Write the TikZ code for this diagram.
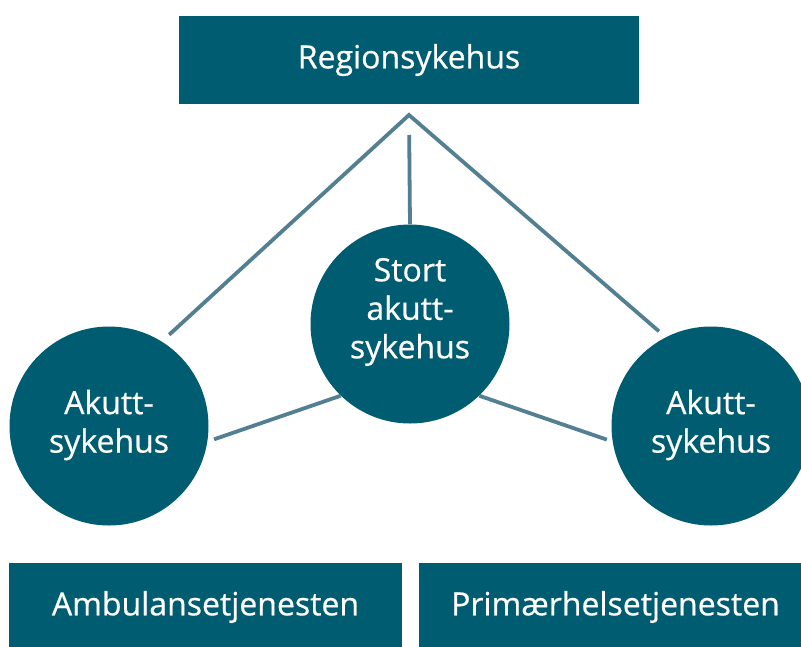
\documentclass[tikz,border=0pt]{standalone}
\usepackage{fontspec}
\IfFontExistsTF{Open Sans SemiBold}
  {\setmainfont{Open Sans SemiBold}}
  {\setmainfont{Open Sans}[FakeBold=0.6,AutoFakeBold=0.6]}
\definecolor{petrol}{RGB}{0,92,112}
\definecolor{linjeblaa}{RGB}{82,128,146}

\begin{document}
\begin{tikzpicture}[x=1pt,y=-1pt,line join=miter,
    boks/.style={fill=petrol,text=white,minimum height=88pt,inner sep=0pt,
      font=\fontsize{32}{38.5}\selectfont},
    sirkel/.style={circle,fill=petrol,minimum size=199pt,inner sep=0pt},
    tekst/.style={text=white,align=center,inner sep=0pt,
      font=\fontsize{32}{38.5}\selectfont},
    linje/.style={draw=linjeblaa,line width=3.8pt}]
      \useasboundingbox (0,0) rectangle (801,646);
      \node[boks,minimum width=460pt] (region) at (409,60) {Regionsykehus};
      \node[boks,minimum width=393pt] (ambulanse) at (205.5,607) {Ambulansetjenesten};
      \node[boks,minimum width=393pt] (primaer) at (615.5,607) {Primærhelsetjenesten};
      \node[sirkel] (mid)   at (410,324) {};
      \node[sirkel] (left)  at (109,426) {};
      \node[sirkel] (right) at (711,426) {};
      \node[tekst] (midtekst)   at (410,312) {Stort\\akutt-\\sykehus};
      \node[tekst] (lefttekst)  at (109,425) {Akutt-\\sykehus};
      \node[tekst] (righttekst) at (711,425) {Akutt-\\sykehus};
      \coordinate (apex) at (409,115);
      \draw[linje,shorten <=10pt,shorten >=9pt] (left.58) -- (apex) -- (right.117);
      \draw[linje,shorten <=20pt] (apex) -- (mid.north);
      \draw[linje,shorten >=7pt] (mid.226) -- (left.-9);
      \draw[linje,shorten >=6pt] (mid.-46) -- (right.189);
    \end{tikzpicture}
\end{document}
